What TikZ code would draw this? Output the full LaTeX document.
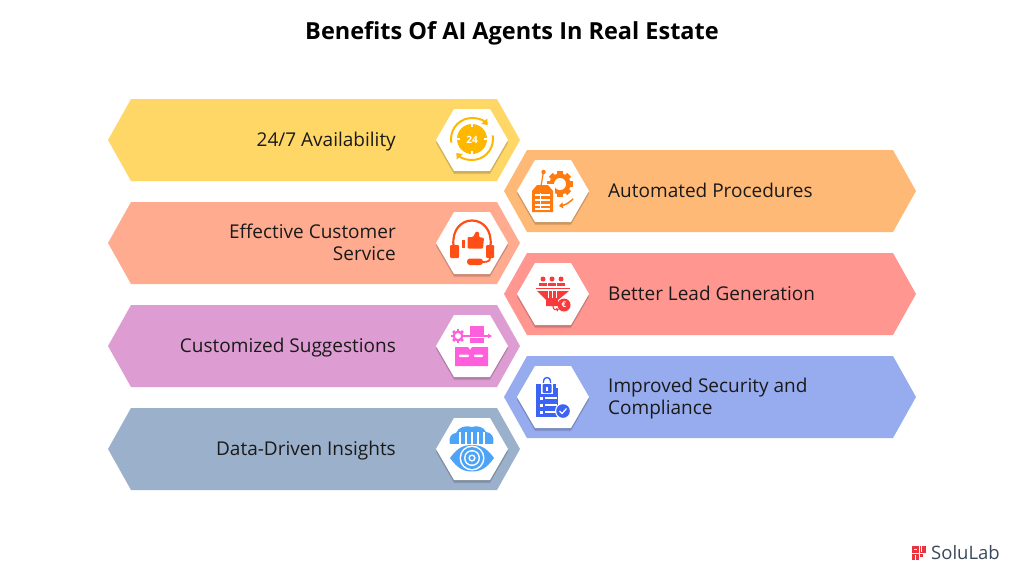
\documentclass[tikz,border=0pt]{standalone}
\usepackage{fontspec}
\setmainfont{Open Sans}
\usetikzlibrary{arrows.meta}
\definecolor{cY}{HTML}{FFD766}\definecolor{cO}{HTML}{FFB976}\definecolor{cS}{HTML}{FFAB8F}
\definecolor{cR}{HTML}{FF9690}\definecolor{cP}{HTML}{DD9DD2}\definecolor{cB}{HTML}{97ABEF}\definecolor{cG}{HTML}{9BB0CA}
\definecolor{iY}{HTML}{FFB800}\definecolor{iO}{HTML}{FF7A0F}\definecolor{iS}{HTML}{FF4F17}
\definecolor{iR}{HTML}{F93A3A}\definecolor{iP}{HTML}{FF5FDC}\definecolor{iB}{HTML}{3D63F5}\definecolor{iG}{HTML}{4DA3F5}
\definecolor{ink}{HTML}{1A1A1A}\definecolor{logo}{HTML}{3A4A5C}\definecolor{logor}{HTML}{E8343F}
\tikzset{
 lefttext/.style={anchor=east,align=right,font=\fontsize{19}{22}\selectfont,text=ink,inner sep=0pt},
 righttext/.style={anchor=west,align=left,font=\fontsize{19}{22}\selectfont,text=ink,inner sep=0pt},
 hexface/.style={fill=white},
 hexshade/.style={fill=black,opacity=.12},
}
\newcommand{\banner}[3]{\fill[#3] (#1,#2+41)--(#1+23,#2)--(#1+389,#2)--(#1+412,#2+41)--(#1+389,#2+82)--(#1+23,#2+82)--cycle;}
\newcommand{\hexpath}[3]{(#1-36,#2+#3)--(#1-18,#2-31+#3)--(#1+18,#2-31+#3)--(#1+36,#2+#3)--(#1+18,#2+31+#3)--(#1-18,#2+31+#3)--cycle}
\newcommand{\hexa}[2]{\fill[hexshade] \hexpath{#1}{#2}{3}; \fill[hexshade] \hexpath{#1}{#2}{1.5}; \fill[hexface] \hexpath{#1}{#2}{0};}
\begin{document}
\begin{tikzpicture}[x=1pt,y=-1pt]
\useasboundingbox (0,0) rectangle (1024,576);
\fill[white] (0,0) rectangle (1024,576);
\node[font=\bfseries\fontsize{23.5}{28}\selectfont,text=black,inner sep=0pt] (title) at (512,33) {Benefits Of AI Agents In Real Estate};
\banner{108}{99}{cY}\banner{504}{150}{cO}\banner{108}{202}{cS}\banner{504}{253}{cR}\banner{108}{305}{cP}\banner{504}{356}{cB}\banner{108}{408}{cG}
\hexa{472}{140}\hexa{553}{191}\hexa{472}{243}\hexa{553}{294}\hexa{472}{346}\hexa{553}{397}\hexa{472}{449}
\node[lefttext] (t1) at (396,142) {\strut 24/7 Availability};
\node[righttext] (t2) at (608,193) {\strut Automated Procedures};
\node[lefttext] (t3) at (396,245) {\strut Effective Customer\\\strut Service};
\node[righttext] (t4) at (608,296) {\strut Better Lead Generation};
\node[lefttext] (t5) at (396,348) {\strut Customized Suggestions};
\node[righttext] (t6) at (608,399) {\strut Improved Security and\\\strut Compliance};
\node[lefttext] (t7) at (396,451) {\strut Data-Driven Insights};
% icon 1: clock
\fill[iY] (472,139) circle (15);
\foreach \a in {0,90,180,270}{\draw[white,line width=1.4] (472,139)++(\a:15.2) -- ++(\a+180:3.5);}
\node[font=\bfseries\fontsize{10}{10}\selectfont,text=white,inner sep=0pt] (i1) at (472,139.5) {24};
\draw[iY,line width=2,-{Triangle[length=5,width=8]}] (472,139)++(170:21) arc (170:318:21);
\draw[iY,line width=2,-{Triangle[length=5,width=8]}] (472,139)++(-10:21) arc (-10:138:21);
% icon 2: gear and document
\fill[iO] (560,184) circle (10.5);
\foreach \a in {0,45,...,315}{\fill[iO,rotate around={\a:(560,184)}] (557.3,171) rectangle (562.7,178);}
\fill[white] (560,184) circle (6);
\fill[white] (530.5,183.5) rectangle (554.5,214);
\fill[iO] (532,191)--(537,185)--(548,185)--(553,191)--(553,212)--(532,212)--cycle;
\foreach \y in {194,199,204,208}{\fill[white] (535,\y) rectangle (550,\y+1.5);}
\fill[white] (540,193) rectangle (541,210);
\fill[iO] (543.5,172) circle (2.2);
\draw[iO,line width=1.2] (543.5,172) -- (541,186);
\draw[iO,line width=1.5,-{Triangle[length=4,width=6]}] (573,199) .. controls (569,203) and (565,205) .. (559,206);
% icon 3: headset
\draw[iS,line width=2.2] (453.5,246) .. controls (450,212) and (494,212) .. (490.5,246);
\fill[iS,rounded corners=1] (450,245) rectangle (459,258);
\fill[iS,rounded corners=1] (486,245) rectangle (494,258);
\draw[iS,line width=1.8] (490,258) .. controls (490,262) and (486,262) .. (481,262);
\fill[iS,rounded corners=3] (467,258.5) rectangle (483,265);
\fill[iS] (462,240) rectangle (465,248);
\fill[iS,rounded corners=1] (467.5,237) -- (473,237) -- (476,231.5) -- (479,232) -- (479,237) -- (484,238) -- (483,248.5) -- (467.5,248.5) -- cycle;
% icon 4: funnel
\foreach \x in {543,552,561}{\fill[iR] (\x,279) circle (2.5);\fill[iR] (\x-3.7,282.5) rectangle (\x+3.7,286);}
\fill[iR] (536,287.5) rectangle (570,289);
\fill[iR] (537,291)--(569,291)--(558,300)--(558,306)--(546,306)--(546,300)--cycle;
\foreach \x in {548,552,556}{\fill[white] (\x-.4,291) rectangle (\x+.4,298);}
\draw[iR,line width=1.1,-{Triangle[length=2.5,width=3.5]}] (553,306) .. controls (553,310) and (556,310) .. (559,309);
\fill[iR] (564,305) circle (6.5);
\node[font=\bfseries\fontsize{8}{8}\selectfont,text=white,inner sep=0pt] (i4) at (564,305) {€};
% icon 5: box and gear
\fill[iP] (470,326) rectangle (484,343);
\fill[white] (462,334.5) rectangle (487,337.5);
\draw[iP,line width=1.1,-{Triangle[length=4,width=4.5]}] (462,336) -- (492,336);
\fill[iP] (458,336) circle (5.5);
\foreach \a in {0,45,...,315}{\fill[iP,rotate around={\a:(458,336)}] (456.6,329) rectangle (459.4,332);}
\fill[white] (458,336) circle (3);
\fill[iP] (455,347) -- (468,347) -- (470,350) -- (472,347) -- (488,347) -- (488,366) -- (455,366) -- cycle;
\fill[white,rounded corners=.8] (459,354.5) rectangle (469,357);
\fill[white,rounded corners=.8] (474,354.5) rectangle (483,357);
% icon 6: clipboard
\fill[iB] (536,384) rectangle (558,417);
\draw[iB,line width=1.4] (543.5,384) -- (543.5,381) arc (180:360:3.5) -- (550.5,384);
\fill[white] (541,382.5) rectangle (553,394);
\fill[iB,rounded corners=1] (542.5,384) rectangle (551.5,393);
\fill[white] (546,386.5) rectangle (548,391);
\fill[white] (556,383) -- (558,383) -- (558,388) -- (556,388) -- cycle;
\foreach \y in {398,405,412}{\fill[white] (539.5,\y-1.5) rectangle (543,\y+1.5);\fill[white] (545,\y-.8) rectangle (557,\y+.8);}
\fill[white] (563,411) circle (8);
\fill[iB] (563,411) circle (6.8);
\draw[white,line width=1.2] (559.5,411) -- (562,413.5) -- (566.5,408.5);
% icon 7: eye and cloud
\fill[iG] (450,444)
  .. controls (448,437) and (452,433) .. (456,433)
  .. controls (458,427) and (466,425) .. (472,427)
  .. controls (477,425) and (484,427) .. (486,432)
  .. controls (491,432) and (495,437) .. (493,444) -- cycle;
\foreach \x in {460,466,472,478,484}{\fill[white] (\x-.7,432) rectangle (\x+.7,449);}
\fill[white] (450,444) rectangle (494,446);
\fill[iG] (450,458) .. controls (458,447) and (464,445) .. (472,445) .. controls (480,445) and (486,447) .. (494,458) .. controls (486,469) and (480,471.5) .. (472,471.5) .. controls (464,471.5) and (458,469) .. (450,458) -- cycle;
\fill[white] (472,458) circle (12.5);
\fill[iG] (472,458) circle (11);
\fill[white] (472,458) circle (8);
\fill[iG] (472,458) circle (6.5);
\fill[white] (472,458) circle (3.6);
\fill[iG] (472,458) circle (2);
% logo
\fill[logor] (912,546) rectangle (918.5,552.5);\fill[logor] (919.5,546) rectangle (926,552.5);
\fill[logor] (912,553.5) rectangle (918.5,560);\fill[logor] (919.5,553.5) rectangle (923,557);
\fill[white] (913.5,548.5) rectangle (917,550);\fill[white] (914.8,554.5) rectangle (916,560);\fill[white] (921,546) rectangle (922,552);
\node[anchor=west,font=\fontsize{18.5}{22}\selectfont,text=logo,inner sep=0pt] (logotext) at (931,553) {SoluLab};
\end{tikzpicture}
\end{document}
